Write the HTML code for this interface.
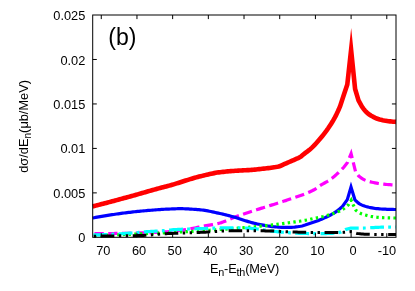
<!DOCTYPE html>
<html><head><meta charset="utf-8"><style>
html,body{margin:0;padding:0;background:#fff;}
svg{display:block;will-change:transform;}
text{font-family:"Liberation Sans",sans-serif;font-size:12.8px;fill:#000;}
</style></head><body>
<svg width="415" height="291" viewBox="0 0 415 291">
<rect width="415" height="291" fill="#fff"/>
<g fill="none" stroke-linejoin="miter" stroke-miterlimit="100">
<path d="M92.70,206.40 L94.20,206.02 L95.70,205.63 L97.20,205.24 L98.70,204.86 L100.20,204.47 L101.70,204.08 L103.20,203.69 L104.70,203.29 L106.20,202.90 L107.70,202.50 L109.20,202.11 L110.70,201.71 L112.20,201.31 L113.70,200.91 L115.20,200.51 L116.70,200.11 L118.20,199.71 L119.70,199.30 L121.20,198.90 L122.70,198.49 L124.20,198.08 L125.70,197.68 L127.20,197.27 L128.70,196.86 L130.20,196.45 L131.70,196.03 L133.20,195.61 L134.70,195.19 L136.20,194.76 L137.70,194.34 L139.20,193.91 L140.70,193.47 L142.20,193.04 L143.70,192.61 L145.20,192.17 L146.70,191.74 L148.20,191.31 L149.70,190.88 L151.20,190.45 L152.70,190.02 L154.20,189.60 L155.70,189.18 L157.20,188.76 L158.70,188.35 L160.20,187.95 L161.70,187.55 L163.20,187.16 L164.70,186.78 L166.20,186.40 L167.70,186.02 L169.20,185.62 L170.70,185.21 L172.20,184.78 L173.70,184.34 L175.20,183.89 L176.70,183.42 L178.20,182.96 L179.70,182.48 L181.20,182.00 L182.70,181.52 L184.20,181.04 L185.70,180.56 L187.20,180.08 L188.70,179.61 L190.20,179.15 L191.70,178.69 L193.20,178.24 L194.70,177.81 L196.20,177.39 L197.70,176.98 L199.20,176.60 L200.70,176.23 L202.20,175.86 L203.70,175.49 L205.20,175.12 L206.70,174.76 L208.20,174.40 L209.70,174.06 L211.20,173.73 L212.70,173.41 L214.20,173.12 L215.70,172.84 L217.20,172.59 L218.70,172.37 L220.20,172.18 L221.70,172.00 L223.20,171.84 L224.70,171.68 L226.20,171.54 L227.70,171.40 L229.20,171.27 L230.70,171.14 L232.20,171.03 L233.70,170.92 L235.20,170.81 L236.70,170.71 L238.20,170.61 L239.70,170.52 L241.20,170.43 L242.70,170.36 L244.20,170.29 L245.70,170.23 L247.20,170.16 L248.70,170.08 L250.20,169.99 L251.70,169.87 L253.20,169.74 L254.70,169.60 L256.20,169.44 L257.70,169.27 L259.20,169.11 L260.70,168.94 L262.20,168.78 L263.70,168.62 L265.20,168.47 L266.70,168.30 L268.20,168.13 L269.70,167.94 L271.20,167.74 L272.70,167.53 L274.20,167.31 L275.70,167.06 L277.20,166.77 L278.70,166.43 L280.20,165.97 L281.70,165.30 L283.20,164.61 L284.70,163.97 L286.20,163.32 L287.70,162.66 L289.20,162.01 L290.70,161.35 L292.20,160.68 L293.70,160.02 L295.20,159.35 L296.70,158.70 L298.20,158.08 L299.70,157.36 L301.20,156.32 L302.70,155.06 L304.20,153.85 L305.70,152.70 L307.20,151.56 L308.70,150.39 L310.20,149.17 L311.70,147.87 L313.20,146.45 L314.70,144.88 L316.20,143.24 L317.70,141.55 L319.20,139.83 L320.70,138.06 L322.20,136.23 L323.70,134.35 L325.20,132.41 L326.70,130.41 L328.20,128.30 L329.70,126.04 L331.20,123.68 L332.70,121.29 L334.20,118.73 L335.70,115.90 L337.20,112.83 L338.70,109.53 L340.20,106.00 L343.70,95.20 L347.30,84.50 L351.10,49.80 L355.10,89.00 L358.50,100.30 L361.90,106.60 L363.38,108.65 L364.87,110.50 L366.35,112.09 L367.83,113.39 L369.31,114.51 L370.80,115.49 L372.28,116.36 L373.76,117.15 L375.24,117.88 L376.73,118.52 L378.21,119.03 L379.69,119.46 L381.17,119.85 L382.66,120.19 L384.14,120.49 L385.62,120.74 L387.10,120.96 L388.59,121.17 L390.07,121.37 L391.55,121.55 L393.03,121.70 L394.52,121.82 L396.00,121.90" stroke="#ff0000" stroke-width="4.6"/>
<path d="M92.70,233.70 L94.20,233.70 L95.69,233.69 L97.19,233.68 L98.68,233.67 L100.18,233.66 L101.67,233.65 L103.17,233.63 L104.67,233.61 L106.16,233.60 L107.66,233.58 L109.15,233.56 L110.65,233.54 L112.15,233.52 L113.64,233.49 L115.14,233.47 L116.63,233.44 L118.13,233.42 L119.62,233.39 L121.12,233.37 L122.62,233.34 L124.11,233.31 L125.61,233.28 L127.10,233.26 L128.60,233.23 L130.10,233.20 L131.59,233.17 L133.09,233.13 L134.58,233.10 L136.08,233.06 L137.57,233.02 L139.07,232.97 L140.57,232.93 L142.06,232.88 L143.56,232.83 L145.05,232.78 L146.55,232.73 L148.05,232.67 L149.54,232.62 L151.04,232.56 L152.53,232.50 L154.03,232.45 L155.53,232.39 L157.02,232.32 L158.52,232.25 L160.01,232.18 L161.51,232.11 L163.00,232.03 L164.50,231.94 L166.00,231.85 L167.49,231.74 L168.99,231.63 L170.48,231.50 L171.98,231.35 L173.48,231.20 L174.97,231.03 L176.47,230.85 L177.96,230.67 L179.46,230.47 L180.95,230.28 L182.45,230.07 L183.95,229.87 L185.44,229.64 L186.94,229.39 L188.43,229.12 L189.93,228.85 L191.43,228.58 L192.92,228.30 L194.42,228.02 L195.91,227.73 L197.41,227.43 L198.90,227.14 L200.40,226.84 L201.90,226.53 L203.39,226.22 L204.89,225.92 L206.38,225.64 L207.88,225.38 L209.38,225.13 L210.87,224.89 L212.37,224.64 L213.86,224.38 L215.36,224.10 L216.85,223.80 L218.35,223.46 L219.85,223.07 L221.34,222.62 L222.84,222.11 L224.33,221.55 L225.83,220.96 L227.32,220.34 L228.82,219.70 L230.32,219.05 L231.81,218.40 L233.31,217.77 L234.80,217.15 L236.30,216.56 L237.80,216.00 L239.29,215.47 L240.79,214.96 L242.28,214.45 L243.78,213.94 L245.27,213.45 L246.77,212.95 L248.27,212.47 L249.76,211.98 L251.26,211.50 L252.75,211.02 L254.25,210.54 L255.75,210.07 L257.24,209.59 L258.74,209.11 L260.23,208.62 L261.73,208.14 L263.23,207.67 L264.72,207.20 L266.22,206.73 L267.71,206.27 L269.21,205.81 L270.70,205.35 L272.20,204.89 L273.70,204.43 L275.19,203.96 L276.69,203.50 L278.18,203.03 L279.68,202.56 L281.18,202.08 L282.67,201.60 L284.17,201.10 L285.66,200.61 L287.16,200.10 L288.65,199.58 L290.15,199.06 L291.65,198.56 L293.14,198.05 L294.64,197.55 L296.13,197.05 L297.63,196.54 L299.12,196.02 L300.62,195.50 L302.12,194.95 L303.61,194.40 L305.11,193.82 L306.60,193.22 L308.10,192.59 L309.60,191.93 L311.09,191.24 L312.59,190.51 L314.08,189.74 L315.58,188.80 L317.07,187.75 L318.57,186.67 L320.07,185.66 L321.56,184.73 L323.06,183.85 L324.55,182.99 L326.05,182.14 L327.55,181.26 L329.04,180.34 L330.54,179.36 L332.03,178.28 L333.53,177.08 L335.02,175.80 L336.52,174.43 L338.02,173.01 L339.51,171.55 L341.01,170.09 L342.50,168.58 L344.00,167.00 L347.50,162.50 L351.10,153.60 L355.60,172.00 L358.50,175.80 L360.00,176.99 L361.50,178.09 L363.00,179.05 L364.50,179.86 L366.00,180.49 L367.50,181.01 L369.00,181.46 L370.50,181.84 L372.00,182.20 L373.50,182.54 L375.00,182.86 L376.50,183.15 L378.00,183.41 L379.50,183.63 L381.00,183.82 L382.50,184.01 L384.00,184.18 L385.50,184.34 L387.00,184.48 L388.50,184.61 L390.00,184.72 L391.50,184.81 L393.00,184.89 L394.50,184.95 L396.00,185.00" stroke="#ff00ff" stroke-width="3.2" stroke-dasharray="9.3 4.43" stroke-dashoffset="11.92"/>
<path d="M92.70,218.00 L94.20,217.72 L95.69,217.44 L97.19,217.16 L98.68,216.89 L100.18,216.62 L101.67,216.36 L103.17,216.10 L104.67,215.85 L106.16,215.60 L107.66,215.36 L109.15,215.13 L110.65,214.90 L112.15,214.68 L113.64,214.46 L115.14,214.24 L116.63,214.02 L118.13,213.81 L119.62,213.61 L121.12,213.41 L122.62,213.21 L124.11,213.01 L125.61,212.83 L127.10,212.64 L128.60,212.46 L130.10,212.29 L131.59,212.12 L133.09,211.95 L134.58,211.78 L136.08,211.62 L137.57,211.46 L139.07,211.30 L140.57,211.15 L142.06,211.00 L143.56,210.86 L145.05,210.72 L146.55,210.59 L148.04,210.46 L149.54,210.34 L151.04,210.22 L152.53,210.10 L154.03,209.99 L155.52,209.87 L157.02,209.76 L158.52,209.65 L160.01,209.55 L161.51,209.45 L163.00,209.36 L164.50,209.27 L165.99,209.19 L167.49,209.11 L168.99,209.04 L170.48,208.98 L171.98,208.92 L173.47,208.86 L174.97,208.80 L176.47,208.75 L177.96,208.72 L179.46,208.70 L180.95,208.70 L182.45,208.72 L183.94,208.76 L185.44,208.81 L186.94,208.87 L188.43,208.95 L189.93,209.03 L191.42,209.13 L192.92,209.23 L194.41,209.34 L195.91,209.46 L197.41,209.58 L198.90,209.71 L200.40,209.84 L201.89,209.99 L203.39,210.18 L204.89,210.40 L206.38,210.65 L207.88,210.92 L209.37,211.21 L210.87,211.51 L212.36,211.83 L213.86,212.15 L215.36,212.48 L216.85,212.82 L218.35,213.14 L219.84,213.47 L221.34,213.79 L222.84,214.12 L224.33,214.47 L225.83,214.83 L227.32,215.20 L228.82,215.58 L230.31,215.99 L231.81,216.42 L233.31,216.87 L234.80,217.35 L236.30,217.85 L237.79,218.35 L239.29,218.85 L240.79,219.35 L242.28,219.83 L243.78,220.29 L245.27,220.72 L246.77,221.16 L248.26,221.59 L249.76,222.01 L251.26,222.43 L252.75,222.84 L254.25,223.23 L255.74,223.60 L257.24,223.94 L258.73,224.27 L260.23,224.57 L261.73,224.87 L263.22,225.16 L264.72,225.44 L266.21,225.71 L267.71,225.96 L269.21,226.19 L270.70,226.40 L272.20,226.58 L273.69,226.73 L275.19,226.87 L276.68,227.00 L278.18,227.13 L279.68,227.24 L281.17,227.33 L282.67,227.38 L284.16,227.40 L285.66,227.40 L287.16,227.40 L288.65,227.40 L290.15,227.40 L291.64,227.36 L293.14,227.27 L294.63,227.13 L296.13,226.95 L297.63,226.75 L299.12,226.53 L300.62,226.30 L302.11,225.97 L303.61,225.56 L305.10,225.09 L306.60,224.58 L308.10,224.05 L309.59,223.54 L311.09,223.04 L312.58,222.54 L314.08,222.02 L315.58,221.49 L317.07,220.95 L318.57,220.38 L320.06,219.79 L321.56,219.18 L323.05,218.55 L324.55,217.90 L326.05,217.23 L327.54,216.53 L329.04,215.80 L330.53,215.03 L332.03,214.21 L333.53,213.35 L335.02,212.42 L336.52,211.38 L338.01,210.26 L339.51,209.07 L341.00,207.81 L342.50,206.50 L347.30,199.60 L351.00,187.10 L354.90,199.80 L358.50,203.20 L360.00,204.11 L361.50,204.91 L363.00,205.53 L364.50,206.06 L366.00,206.52 L367.50,206.92 L369.00,207.28 L370.50,207.60 L372.00,207.89 L373.50,208.16 L375.00,208.38 L376.50,208.55 L378.00,208.71 L379.50,208.84 L381.00,208.97 L382.50,209.07 L384.00,209.15 L385.50,209.22 L387.00,209.28 L388.50,209.34 L390.00,209.39 L391.50,209.44 L393.00,209.47 L394.50,209.49 L396.00,209.50" stroke="#0000ff" stroke-width="3.2"/>
<path d="M92.70,235.50 L94.20,235.46 L95.70,235.42 L97.19,235.38 L98.69,235.34 L100.19,235.30 L101.69,235.26 L103.18,235.22 L104.68,235.17 L106.18,235.13 L107.68,235.08 L109.17,235.03 L110.67,234.98 L112.17,234.93 L113.67,234.88 L115.16,234.83 L116.66,234.78 L118.16,234.73 L119.66,234.68 L121.15,234.62 L122.65,234.57 L124.15,234.51 L125.65,234.45 L127.15,234.40 L128.64,234.34 L130.14,234.28 L131.64,234.22 L133.14,234.16 L134.63,234.10 L136.13,234.04 L137.63,233.97 L139.13,233.91 L140.62,233.85 L142.12,233.78 L143.62,233.72 L145.12,233.65 L146.61,233.59 L148.11,233.52 L149.61,233.46 L151.11,233.39 L152.60,233.32 L154.10,233.25 L155.60,233.18 L157.10,233.11 L158.60,233.04 L160.09,232.97 L161.59,232.90 L163.09,232.83 L164.59,232.76 L166.08,232.69 L167.58,232.61 L169.08,232.54 L170.58,232.47 L172.07,232.39 L173.57,232.32 L175.07,232.25 L176.57,232.17 L178.06,232.10 L179.56,232.02 L181.06,231.95 L182.56,231.87 L184.05,231.79 L185.55,231.71 L187.05,231.63 L188.55,231.54 L190.05,231.46 L191.54,231.37 L193.04,231.28 L194.54,231.19 L196.04,231.10 L197.53,231.01 L199.03,230.92 L200.53,230.82 L202.03,230.73 L203.52,230.63 L205.02,230.53 L206.52,230.43 L208.02,230.33 L209.51,230.23 L211.01,230.13 L212.51,230.03 L214.01,229.92 L215.50,229.82 L217.00,229.71 L218.50,229.61 L220.00,229.50 L221.50,229.39 L222.99,229.28 L224.49,229.17 L225.99,229.06 L227.49,228.95 L228.98,228.84 L230.48,228.73 L231.98,228.61 L233.48,228.50 L234.97,228.38 L236.47,228.26 L237.97,228.14 L239.47,228.02 L240.96,227.90 L242.46,227.78 L243.96,227.65 L245.46,227.52 L246.95,227.39 L248.45,227.26 L249.95,227.13 L251.45,227.00 L252.95,226.86 L254.44,226.73 L255.94,226.59 L257.44,226.45 L258.94,226.30 L260.43,226.16 L261.93,226.01 L263.43,225.86 L264.93,225.71 L266.42,225.55 L267.92,225.39 L269.42,225.23 L270.92,225.06 L272.41,224.88 L273.91,224.70 L275.41,224.52 L276.91,224.33 L278.40,224.14 L279.90,223.95 L281.40,223.76 L282.90,223.56 L284.40,223.36 L285.89,223.16 L287.39,222.95 L288.89,222.75 L290.39,222.54 L291.88,222.34 L293.38,222.13 L294.88,221.93 L296.38,221.71 L297.87,221.50 L299.37,221.28 L300.87,221.04 L302.37,220.81 L303.86,220.56 L305.36,220.29 L306.86,220.02 L308.36,219.73 L309.85,219.37 L311.35,219.00 L312.85,218.67 L314.35,218.36 L315.85,218.07 L317.34,217.78 L318.84,217.49 L320.34,217.18 L321.84,216.85 L323.33,216.49 L324.83,216.09 L326.33,215.66 L327.83,215.20 L329.32,214.72 L330.82,214.22 L332.32,213.71 L333.82,213.20 L335.31,212.69 L336.81,212.17 L338.31,211.61 L339.81,210.96 L341.30,210.18 L342.80,209.29 L344.30,208.30 L348.50,204.60 L351.20,200.20 L353.50,205.40 L355.90,210.30 L357.39,211.45 L358.87,212.46 L360.36,213.29 L361.84,213.93 L363.33,214.45 L364.81,214.90 L366.30,215.30 L367.78,215.67 L369.27,216.00 L370.75,216.30 L372.24,216.56 L373.72,216.80 L375.21,217.01 L376.69,217.20 L378.18,217.34 L379.66,217.47 L381.15,217.57 L382.63,217.66 L384.12,217.73 L385.60,217.79 L387.09,217.84 L388.57,217.89 L390.06,217.92 L391.54,217.95 L393.03,217.97 L394.51,217.99 L396.00,218.00" stroke="#00ff00" stroke-width="3.2" stroke-dasharray="2.4 3.3" stroke-dashoffset="4.01"/>
<path d="M92.70,235.00 L94.20,234.97 L95.69,234.93 L97.19,234.89 L98.68,234.84 L100.18,234.79 L101.67,234.74 L103.17,234.69 L104.67,234.63 L106.16,234.57 L107.66,234.50 L109.15,234.44 L110.65,234.37 L112.15,234.30 L113.64,234.22 L115.14,234.13 L116.63,234.04 L118.13,233.95 L119.62,233.85 L121.12,233.74 L122.62,233.64 L124.11,233.53 L125.61,233.42 L127.10,233.31 L128.60,233.20 L130.09,233.09 L131.59,232.98 L133.09,232.86 L134.58,232.73 L136.08,232.60 L137.57,232.47 L139.07,232.33 L140.57,232.20 L142.06,232.07 L143.56,231.94 L145.05,231.82 L146.55,231.70 L148.04,231.60 L149.54,231.50 L151.04,231.41 L152.53,231.33 L154.03,231.26 L155.52,231.18 L157.02,231.10 L158.51,231.02 L160.01,230.93 L161.51,230.83 L163.00,230.72 L164.50,230.59 L165.99,230.44 L167.49,230.29 L168.98,230.13 L170.48,229.97 L171.98,229.83 L173.47,229.70 L174.97,229.60 L176.46,229.52 L177.96,229.44 L179.46,229.36 L180.95,229.29 L182.45,229.22 L183.94,229.16 L185.44,229.10 L186.93,229.04 L188.43,228.99 L189.93,228.93 L191.42,228.88 L192.92,228.83 L194.41,228.78 L195.91,228.73 L197.40,228.68 L198.90,228.64 L200.40,228.59 L201.89,228.54 L203.39,228.48 L204.88,228.43 L206.38,228.37 L207.88,228.31 L209.37,228.26 L210.87,228.20 L212.36,228.15 L213.86,228.10 L215.35,228.06 L216.85,228.02 L218.35,227.98 L219.84,227.95 L221.34,227.93 L222.83,227.91 L224.33,227.90 L225.82,227.90 L227.32,227.90 L228.82,227.90 L230.31,227.91 L231.81,227.91 L233.30,227.92 L234.80,227.92 L236.30,227.93 L237.79,227.94 L239.29,227.95 L240.78,227.96 L242.28,227.97 L243.77,227.99 L245.27,228.00 L246.77,228.05 L248.26,228.13 L249.76,228.25 L251.25,228.39 L252.75,228.54 L254.24,228.70 L255.74,228.87 L257.24,229.02 L258.73,229.19 L260.23,229.38 L261.72,229.58 L263.22,229.80 L264.72,230.02 L266.21,230.25 L267.71,230.48 L269.20,230.71 L270.70,230.93 L272.19,231.14 L273.69,231.33 L275.19,231.51 L276.68,231.67 L278.18,231.82 L279.67,231.97 L281.17,232.11 L282.66,232.25 L284.16,232.38 L285.66,232.50 L287.15,232.61 L288.65,232.71 L290.14,232.81 L291.64,232.90 L293.13,232.99 L294.63,233.08 L296.13,233.17 L297.62,233.25 L299.12,233.32 L300.61,233.38 L302.11,233.44 L303.61,233.48 L305.10,233.50 L306.60,233.52 L308.09,233.53 L309.59,233.55 L311.08,233.56 L312.58,233.57 L314.08,233.58 L315.57,233.59 L317.07,233.60 L318.56,233.60 L320.06,233.60 L321.55,233.60 L323.05,233.58 L324.55,233.56 L326.04,233.53 L327.54,233.50 L329.03,233.45 L330.53,233.40 L332.03,233.34 L333.52,233.27 L335.02,233.20 L336.51,233.04 L338.01,232.75 L339.50,232.38 L341.00,232.00 L345.50,229.60 L350.80,228.00 L354.70,228.10 L356.18,228.10 L357.65,228.10 L359.12,228.10 L360.60,228.09 L362.07,228.08 L363.55,228.05 L365.02,228.02 L366.50,227.98 L367.97,227.90 L369.45,227.80 L370.93,227.70 L372.40,227.63 L373.88,227.55 L375.35,227.47 L376.82,227.39 L378.30,227.32 L379.77,227.26 L381.25,227.20 L382.73,227.15 L384.20,227.11 L385.68,227.09 L387.15,227.07 L388.62,227.05 L390.10,227.03 L391.57,227.02 L393.05,227.01 L394.52,227.00 L396.00,227.00" stroke="#00ffff" stroke-width="3.2" stroke-dasharray="13.8 4.2 2.8 4.5" stroke-dashoffset="24.59"/>
<path d="M92.70,236.20 L94.20,236.18 L95.70,236.15 L97.20,236.13 L98.71,236.11 L100.21,236.08 L101.71,236.06 L103.21,236.04 L104.71,236.02 L106.21,236.00 L107.71,235.98 L109.22,235.96 L110.72,235.94 L112.22,235.93 L113.72,235.91 L115.22,235.90 L116.72,235.88 L118.23,235.87 L119.73,235.85 L121.23,235.84 L122.73,235.82 L124.23,235.81 L125.73,235.79 L127.23,235.77 L128.74,235.76 L130.24,235.74 L131.74,235.71 L133.24,235.69 L134.74,235.66 L136.24,235.64 L137.74,235.61 L139.25,235.57 L140.75,235.52 L142.25,235.47 L143.75,235.41 L145.25,235.33 L146.75,235.25 L148.25,235.16 L149.76,235.07 L151.26,234.97 L152.76,234.81 L154.26,234.63 L155.76,234.43 L157.26,234.27 L158.77,234.14 L160.27,234.03 L161.77,233.93 L163.27,233.84 L164.77,233.76 L166.27,233.68 L167.77,233.61 L169.28,233.53 L170.78,233.46 L172.28,233.40 L173.78,233.33 L175.28,233.27 L176.78,233.22 L178.28,233.16 L179.79,233.11 L181.29,233.06 L182.79,233.01 L184.29,232.96 L185.79,232.91 L187.29,232.86 L188.80,232.81 L190.30,232.76 L191.80,232.71 L193.30,232.65 L194.80,232.60 L196.30,232.55 L197.80,232.49 L199.31,232.43 L200.81,232.37 L202.31,232.29 L203.81,232.22 L205.31,232.14 L206.81,232.05 L208.31,231.96 L209.82,231.86 L211.32,231.77 L212.82,231.67 L214.32,231.57 L215.82,231.47 L217.32,231.38 L218.82,231.29 L220.33,231.20 L221.83,231.11 L223.33,231.03 L224.83,230.96 L226.33,230.89 L227.83,230.84 L229.34,230.79 L230.84,230.75 L232.34,230.72 L233.84,230.70 L235.34,230.70 L236.84,230.70 L238.34,230.70 L239.85,230.71 L241.35,230.71 L242.85,230.71 L244.35,230.72 L245.85,230.73 L247.35,230.73 L248.85,230.74 L250.36,230.75 L251.86,230.76 L253.36,230.77 L254.86,230.78 L256.36,230.79 L257.86,230.81 L259.36,230.82 L260.87,230.83 L262.37,230.85 L263.87,230.87 L265.37,230.88 L266.87,230.90 L268.37,230.92 L269.88,230.96 L271.38,231.00 L272.88,231.05 L274.38,231.12 L275.88,231.18 L277.38,231.25 L278.88,231.32 L280.39,231.40 L281.89,231.47 L283.39,231.53 L284.89,231.60 L286.39,231.66 L287.89,231.72 L289.39,231.79 L290.90,231.86 L292.40,231.93 L293.90,231.99 L295.40,232.05 L296.90,232.11 L298.40,232.16 L299.90,232.20 L301.41,232.23 L302.91,232.26 L304.41,232.30 L305.91,232.33 L307.41,232.36 L308.91,232.39 L310.42,232.41 L311.92,232.44 L313.42,232.46 L314.92,232.47 L316.42,232.49 L317.92,232.50 L319.42,232.50 L320.93,232.50 L322.43,232.50 L323.93,232.50 L325.43,232.50 L326.93,232.50 L328.43,232.50 L329.93,232.50 L331.44,232.50 L332.94,232.50 L334.44,232.50 L335.94,232.50 L337.44,232.50 L338.94,232.50 L340.45,232.50 L341.95,232.44 L343.45,232.33 L344.95,232.21 L346.45,232.07 L347.95,231.89 L349.45,231.71 L350.96,231.61 L352.46,231.72 L353.96,232.26 L355.46,232.94 L356.96,233.45 L358.46,233.63 L359.96,233.79 L361.47,233.93 L362.97,234.05 L364.47,234.15 L365.97,234.23 L367.47,234.30 L368.97,234.35 L370.47,234.39 L371.98,234.41 L373.48,234.44 L374.98,234.46 L376.48,234.48 L377.98,234.49 L379.48,234.51 L380.99,234.53 L382.49,234.54 L383.99,234.55 L385.49,234.56 L386.99,234.57 L388.49,234.58 L389.99,234.59 L391.50,234.59 L393.00,234.60 L394.50,234.60 L396.00,234.60" stroke="#000" stroke-width="3" stroke-dasharray="13.6 4.5 2.4 4.5 2.4 4.6" stroke-dashoffset="23.95"/>
</g>
<g fill="none" stroke="#000" stroke-width="1">
<rect x="92.7" y="15.0" width="303.3" height="222.3"/>
<path d="M101.27,237.35 V233.2 M101.27,15.0 V19.1"/><path d="M136.96,237.35 V233.2 M136.96,15.0 V19.1"/><path d="M172.65,237.35 V233.2 M172.65,15.0 V19.1"/><path d="M208.34,237.35 V233.2 M208.34,15.0 V19.1"/><path d="M244.03,237.35 V233.2 M244.03,15.0 V19.1"/><path d="M279.72,237.35 V233.2 M279.72,15.0 V19.1"/><path d="M315.41,237.35 V233.2 M315.41,15.0 V19.1"/><path d="M351.10,237.35 V233.2 M351.10,15.0 V19.1"/><path d="M386.79,237.35 V233.2 M386.79,15.0 V19.1"/><path d="M92.7,192.88 H96.8 M396.0,192.88 H391.9"/><path d="M92.7,148.41 H96.8 M396.0,148.41 H391.9"/><path d="M92.7,103.94 H96.8 M396.0,103.94 H391.9"/><path d="M92.7,59.47 H96.8 M396.0,59.47 H391.9"/>
</g>
<text x="103.3" y="254.8" text-anchor="middle">70</text><text x="139.0" y="254.8" text-anchor="middle">60</text><text x="174.7" y="254.8" text-anchor="middle">50</text><text x="210.3" y="254.8" text-anchor="middle">40</text><text x="246.0" y="254.8" text-anchor="middle">30</text><text x="281.7" y="254.8" text-anchor="middle">20</text><text x="317.4" y="254.8" text-anchor="middle">10</text><text x="353.1" y="254.8" text-anchor="middle">0</text><text x="386.9" y="254.8" text-anchor="middle">-10</text>
<text x="85.3" y="242.3" text-anchor="end">0</text><text x="85.3" y="197.9" text-anchor="end">0.005</text><text x="85.3" y="153.4" text-anchor="end">0.01</text><text x="85.3" y="108.9" text-anchor="end">0.015</text><text x="85.3" y="64.5" text-anchor="end">0.02</text><text x="85.3" y="20.0" text-anchor="end">0.025</text>
<text x="122.3" y="44.7" text-anchor="middle" style="font-size:23px">(b)</text>
<text x="244.5" y="272.8" text-anchor="middle" style="letter-spacing:-0.18px">E<tspan dy="2.7" style="font-size:10.8px">n</tspan><tspan dy="-2.7">-E</tspan><tspan dy="2.7" style="font-size:10.8px">th</tspan><tspan dy="-2.7">(MeV)</tspan></text>
<text transform="translate(28.4,126.4) rotate(-90)" text-anchor="middle">dσ/dE<tspan dy="2.4" style="font-size:10.2px">n</tspan><tspan dy="-2.4">(μb/MeV)</tspan></text>
</svg>
</body></html>
